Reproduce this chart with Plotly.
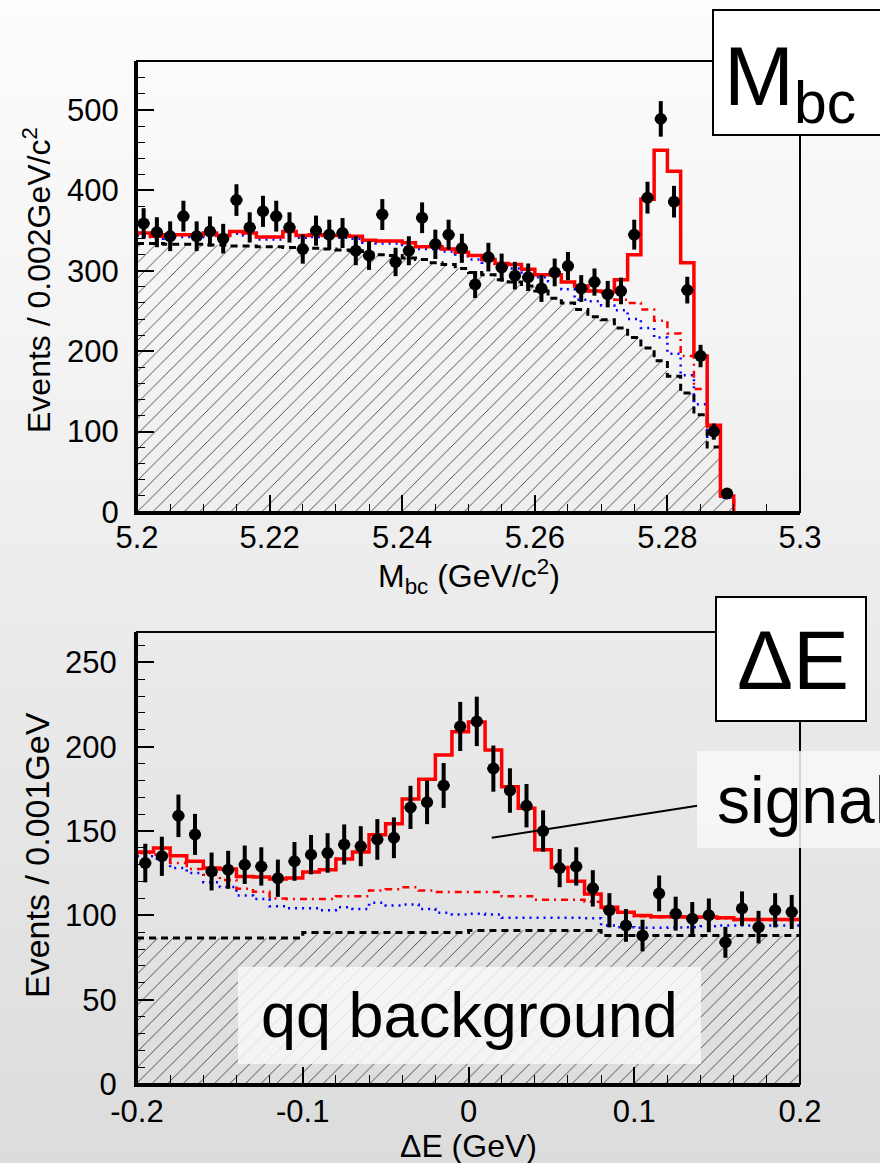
import numpy as np
import plotly.graph_objects as go

W, H = 880, 1163

# ---------------- Mbc panel data (bins of 0.002 GeV/c^2 starting at 5.2) ----------------
mbc_lo, mbc_bin = 5.2, 0.002
mbc_data = [359, 348, 343, 368, 343, 349, 340, 388, 354, 374, 368, 354, 327, 350, 345,
            347, 325, 319, 370, 311, 325, 366, 333, 345, 328, 283, 317, 304, 294, 292,
            278, 298, 306, 278, 286, 271, 275, 345, 391, 489, 386, 276, 194, 100, 23]
mbc_total = [347, 343, 345, 345, 345, 347, 344, 349, 347, 342, 342, 349, 344, 345, 344,
             344, 343, 338, 337, 337, 335, 330, 330, 327, 323, 319, 314, 309, 308, 302,
             295, 295, 286, 281, 275, 274, 289, 320, 389, 450, 424, 310, 194, 108, 20]
mbc_dashdot = [347, 343, 345, 345, 345, 347, 344, 349, 347, 342, 342, 349, 344, 345, 344,
               344, 343, 338, 337, 337, 335, 330, 330, 327, 323, 319, 314, 309, 308, 302,
               295, 295, 286, 281, 275, 273, 264, 260, 252, 238, 222, 194, 153, 100, 19]
mbc_blue = [344, 340, 342, 342, 342, 344, 341, 346, 344, 339, 339, 346, 341, 342, 341,
            341, 340, 335, 334, 334, 332, 327, 327, 324, 318, 314, 310, 306, 303, 298,
            292, 287, 277, 264, 262, 257, 251, 240, 229, 217, 197, 170, 134, 92, 18]
mbc_qq = [334, 334, 333, 333, 333, 332, 332, 331, 331, 330, 330, 329, 328, 328, 327,
          326, 325, 322, 320, 319, 316, 314, 310, 308, 303, 298, 295, 289, 286, 281,
          275, 266, 260, 252, 243, 239, 229, 217, 204, 188, 169, 148, 121, 81, 18]
mbc_tickvals = [5.2, 5.22, 5.24, 5.26, 5.28, 5.3]
mbc_ticktext = ["5.2", "5.22", "5.24", "5.26", "5.28", "5.3"]
mbc_yticks = [0, 100, 200, 300, 400, 500]

# ---------------- Delta E panel data (bins of 0.01 GeV starting at -0.2) ----------------
de_lo, de_bin = -0.2, 0.01
de_data = [131, 135, 159, 148, 126, 127, 130, 129, 122, 132, 136, 137, 142, 141, 145,
           146, 164, 167, 177, 212, 215, 187, 174, 165, 150, 128, 129, 116, 103, 94,
           88, 113, 101, 98, 100, 84, 104, 93, 103, 102]
de_total = [137.5, 139.9, 135.3, 132, 128, 127.5, 123.1, 122.7, 121.5, 122.1, 125.7, 127,
            133.4, 137.5, 147.8, 154.3, 169, 180.7, 195, 208.8, 214.7, 198, 176.3, 163.5,
            138.9, 128.4, 120.2, 112.7, 104.8, 101.9, 99.9, 99.1, 99.1, 99, 99, 98.5,
            97.5, 97.5, 97.5, 97.5]
de_dashdot = [137, 136, 131, 127.5, 124, 121, 115.7, 114, 110, 109.7, 109.7, 109.7,
              111.3, 111.3, 114.8, 115.5, 116.6, 114.8, 113.9, 113.9, 113.9, 113.9, 111.3,
              111.3, 109.3, 109.3, 109.3, 108, 104, 101.5, 99.5, 98.8, 98.8, 98.7, 98.7,
              98.2, 97.2, 97.2, 97.2, 97.2]
de_blue = [135, 133.6, 128, 125.1, 119.6, 116.8, 111.7, 109.7, 105.4, 104.2, 104.2, 103,
           104.8, 103.8, 107.4, 105.8, 106.4, 103.8, 101.5, 100.5, 101, 100.5, 98.5, 98.5,
           98.5, 98.5, 98.5, 98.3, 94, 93, 92.6, 92.6, 92.8, 93, 93.5, 94, 94, 94, 94, 94]
de_qq = [86.5, 86.5, 86.5, 86.5, 86.5, 86.5, 86.5, 86.5, 86.5, 86.5,
         89.8, 89.8, 89.8, 89.8, 89.8, 89.8, 89.8, 89.8, 89.8, 89.8,
         91, 91, 91, 91, 91, 91, 91, 91,
         88, 88, 88, 88, 88, 88, 88, 88, 88, 88, 88, 88]
de_tickvals = [-0.2, -0.1, 0, 0.1, 0.2]
de_ticktext = ["-0.2", "-0.1", "0", "0.1", "0.2"]
de_yticks = [0, 50, 100, 150, 200, 250]

FONT = "Liberation Sans, Arial, Helvetica, sans-serif"


def edges_of(lo, width, n):
    return lo + width * np.arange(n + 1)


def step_xy(vals, edges, drop=False):
    n = len(vals)
    x = list(edges[:n]) + [edges[n]]
    y = list(vals) + [vals[-1]]
    if drop:
        x.append(edges[n])
        y.append(0)
    return x, y


fig = go.Figure()


def add_panel(xa, ya, lo, width, data, total, dashdot, blue, qq, xerr, drop):
    n = len(data)
    edges = edges_of(lo, width, n)
    centers = edges[:-1] + width / 2
    # qq background, hatched
    x, y = step_xy(qq, edges, drop)
    fig.add_trace(go.Scatter(
        x=x, y=y, mode="lines", line=dict(color="black", width=3, dash="7px,5px", shape="hv"),
        fill="tozeroy", fillcolor="rgba(0,0,0,0)",
        fillpattern=dict(shape="/", size=11, solidity=0.06, fgcolor="black", fgopacity=1,
                         bgcolor="rgba(0,0,0,0)"),
        xaxis=xa, yaxis=ya, showlegend=False, hoverinfo="skip"))
    x, y = step_xy(blue, edges, drop)
    fig.add_trace(go.Scatter(
        x=x, y=y, mode="lines", line=dict(color="#0000ff", width=2.5, dash="2px,5px", shape="hv"),
        xaxis=xa, yaxis=ya, showlegend=False, hoverinfo="skip"))
    x, y = step_xy(dashdot, edges, drop)
    fig.add_trace(go.Scatter(
        x=x, y=y, mode="lines", line=dict(color="#ff0000", width=2.5, dash="7px,5px,2px,5px", shape="hv"),
        xaxis=xa, yaxis=ya, showlegend=False, hoverinfo="skip"))
    x, y = step_xy(total, edges, drop)
    fig.add_trace(go.Scatter(
        x=x, y=y, mode="lines", line=dict(color="#ff0000", width=3.5, shape="hv"),
        xaxis=xa, yaxis=ya, showlegend=False, hoverinfo="skip"))
    fig.add_trace(go.Scatter(
        x=centers, y=data, mode="markers",
        marker=dict(color="black", size=12, symbol="circle"),
        error_y=dict(type="data", array=np.sqrt(np.array(data, dtype=float)),
                     thickness=4, width=0, color="black"),
        error_x=dict(type="constant", value=xerr, thickness=3, width=0, color="black"),
        xaxis=xa, yaxis=ya, showlegend=False, hoverinfo="skip"))


add_panel("x", "y", mbc_lo, mbc_bin, mbc_data, mbc_total, mbc_dashdot, mbc_blue, mbc_qq, 0.0009, True)
add_panel("x2", "y2", de_lo, de_bin, de_data, de_total, de_dashdot, de_blue, de_qq, 0.0036, False)

xdom = [137 / W, 800 / W]
top_dom = [1 - 512 / H, 1 - 61 / H]
bot_dom = [1 - 1084 / H, 1 - 632 / H]

tickfont = dict(family=FONT, size=31, color="black")
common = dict(ticks="inside", tickcolor="black", tickwidth=1.5, showline=True, linewidth=3,
              linecolor="black", mirror=False, showgrid=False, zeroline=False,
              tickfont=tickfont, automargin=False)

fig.update_layout(
    width=W, height=H,
    margin=dict(l=0, r=0, t=0, b=0),
    paper_bgcolor="white", plot_bgcolor="rgba(0,0,0,0)",
    xaxis=dict(domain=xdom, anchor="y", range=[5.2, 5.3], tickmode="array",
               tickvals=mbc_tickvals, ticktext=mbc_ticktext, ticklen=17, ticklabelstandoff=-4,
               minor=dict(ticks="inside", ticklen=8, tickwidth=1, tickcolor="black",
                          tickmode="linear", tick0=5.2, dtick=0.005, showgrid=False),
               **common),
    yaxis=dict(domain=top_dom, anchor="x", range=[0, 561], tickmode="array",
               tickvals=mbc_yticks, ticklen=17, ticklabelstandoff=9,
               minor=dict(ticks="inside", ticklen=8, tickwidth=1, tickcolor="black",
                          tickmode="linear", tick0=0, dtick=20, showgrid=False),
               **common),
    xaxis2=dict(domain=xdom, anchor="y2", range=[-0.2, 0.2], tickmode="array",
                tickvals=de_tickvals, ticktext=de_ticktext, ticklen=17, ticklabelstandoff=-2,
                minor=dict(ticks="inside", ticklen=9, tickwidth=1, tickcolor="black",
                           tickmode="linear", tick0=-0.2, dtick=0.02, showgrid=False),
                **common),
    yaxis2=dict(domain=bot_dom, anchor="x2", range=[0, 268], tickmode="array",
                tickvals=de_yticks, ticklen=17, ticklabelstandoff=11,
                minor=dict(ticks="inside", ticklen=8, tickwidth=1, tickcolor="black",
                           tickmode="linear", tick0=0, dtick=10, showgrid=False),
                **common),
)

shapes = []
# background vertical gradient
nb = 90
for i in range(nb):
    c = int(round(253 - 33 * (i + 0.5) / nb))
    shapes.append(dict(type="rect", xref="paper", yref="paper", x0=0, x1=1,
                       y0=1 - (i + 1) / nb - 0.002, y1=1 - i / nb,
                       fillcolor=f"rgb({c},{c},{c})", line=dict(width=0), layer="below"))
# frames
for xr, yr in (("x domain", "y domain"), ("x2 domain", "y2 domain")):
    shapes.append(dict(type="rect", xref=xr, yref=yr, x0=0, x1=1, y0=0, y1=1,
                       line=dict(color="black", width=2), fillcolor="rgba(0,0,0,0)"))
# pointer line for "signal"
shapes.append(dict(type="line", xref="x2", yref="y2", x0=0.014, y0=146, x1=0.138, y1=165,
                   line=dict(color="black", width=2)))
# label boxes
shapes.append(dict(type="rect", xref="paper", yref="paper", x0=713 / W, x1=1.02,
                   y0=1 - 135 / H, y1=1 - 10 / H, fillcolor="white",
                   line=dict(color="black", width=2)))
shapes.append(dict(type="rect", xref="paper", yref="paper", x0=716 / W, x1=866 / W,
                   y0=1 - 721 / H, y1=1 - 597 / H, fillcolor="white",
                   line=dict(color="black", width=2)))
shapes.append(dict(type="rect", xref="paper", yref="paper", x0=697 / W, x1=1.02,
                   y0=1 - 848 / H, y1=1 - 751 / H, fillcolor="rgba(248,248,248,0.85)",
                   line=dict(width=0)))
shapes.append(dict(type="rect", xref="paper", yref="paper", x0=238 / W, x1=701 / W,
                   y0=1 - 1064 / H, y1=1 - 967 / H, fillcolor="rgba(248,248,248,0.85)",
                   line=dict(width=0)))
fig.update_layout(shapes=shapes)

ann = []


def txt(text, x, y, size, xanchor="center", yanchor="middle", angle=0):
    ann.append(dict(text=text, x=x / W, y=1 - y / H, xref="paper", yref="paper",
                    xanchor=xanchor, yanchor=yanchor, showarrow=False, textangle=angle,
                    font=dict(family=FONT, size=size, color="black")))


txt("M<sub>bc</sub>", 722, 82, 84, xanchor="left")
txt("\u0394E", 735, 660, 84, xanchor="left")
txt("signal", 715, 800, 66, xanchor="left")
txt("qq background", 469, 1015, 63)
txt("Events / 0.002GeV/c<sup>2</sup>", 37, 280, 32, angle=-90)
txt("Events / 0.001GeV", 37, 855, 34, angle=-90)
txt("M<sub>bc</sub> (GeV/c<sup>2</sup>)", 469, 576, 32)
txt("\u0394E (GeV)", 468, 1146, 32)
fig.update_layout(annotations=ann)

fig.write_html("out.html")
